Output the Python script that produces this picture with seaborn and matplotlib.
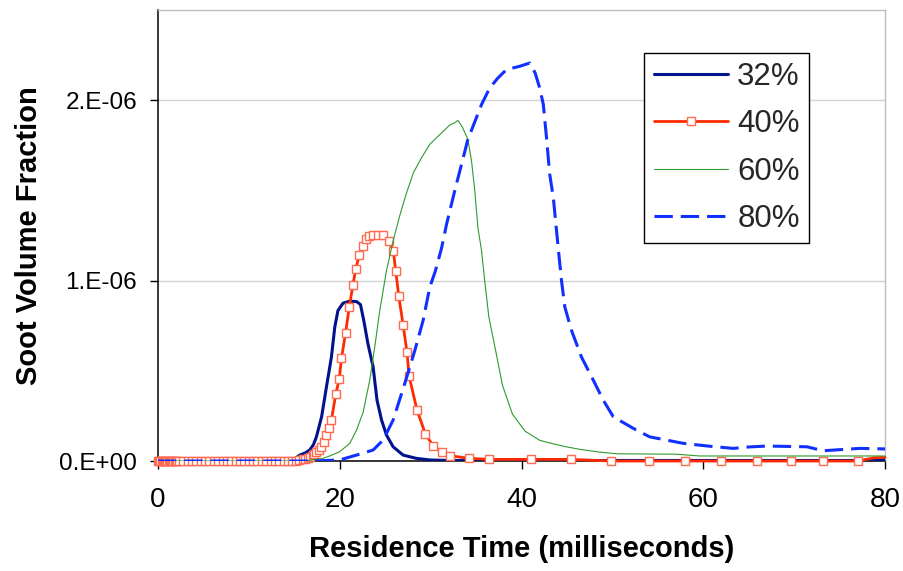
import numpy as np
import pandas as pd
import matplotlib
matplotlib.use("Agg")
import matplotlib.pyplot as plt
from matplotlib.ticker import FuncFormatter
import seaborn as sns

# Soot volume fraction (in units of 1e-6) versus residence time (ms)
# for four oxygen-enrichment levels.
SCALE = 1e-6

t_32 = [0.0, 14.0, 15.0, 15.6, 16.2, 16.7, 17.1, 17.43, 18.0, 18.5, 19.08, 19.45,
        19.8, 20.36, 21.1, 21.84, 22.28, 22.64, 23.1, 23.67, 24.1, 24.6, 25.14,
        25.87, 26.97, 28.4, 29.9, 32.0, 40.0, 50.0, 60.0, 70.0, 78.5, 81.0]
fv_32 = [0.0, 0.0, 0.01, 0.033, 0.045, 0.061, 0.09, 0.134, 0.245, 0.40, 0.576, 0.742,
         0.834, 0.875, 0.886, 0.884, 0.867, 0.779, 0.650, 0.521, 0.337, 0.227, 0.144,
         0.079, 0.033, 0.015, 0.006, 0.003, 0.003, 0.003, 0.003, 0.003, 0.003, 0.012]

t_40 = [0.0, 0.13, 0.26, 0.39, 0.52, 0.65, 0.78, 0.91, 1.04, 1.17, 1.3, 1.43, 1.56,
        1.69, 1.82, 1.95, 2.08, 2.3, 2.78, 3.26, 3.74, 4.22, 4.7, 5.18, 5.66, 6.14,
        6.62, 7.1, 7.58, 8.06, 8.54, 9.02, 9.5, 9.98, 10.46, 10.94, 11.42, 11.9,
        12.38, 12.86, 13.34, 13.82, 14.3, 14.78, 15.2, 15.5, 15.9, 16.2, 16.5, 16.75,
        17.0, 17.2, 17.43, 17.7, 17.98, 18.27, 18.5, 18.8, 19.08, 19.56, 19.95,
        20.19, 20.64, 21.05, 21.45, 21.76, 22.15, 22.55, 22.9, 23.25, 23.7, 24.2,
        24.8, 25.4, 25.9, 26.16, 26.5, 26.97, 27.4, 27.63, 28.5, 29.43, 30.27, 31.2,
        32.1, 34.2, 36.4, 41.0, 45.4, 49.8, 54.0, 58.0, 61.9, 65.9, 69.6, 73.2,
        77.0, 78.8, 80.0]
fv_40 = [0.0] * 45 + [
        0.004, 0.009, 0.013, 0.018, 0.025, 0.033, 0.04, 0.048, 0.061, 0.079, 0.107,
        0.144, 0.185, 0.227, 0.37, 0.457, 0.569, 0.711, 0.855, 0.976, 1.065, 1.142,
        1.193, 1.228, 1.248, 1.252, 1.252, 1.252, 1.219, 1.162, 1.051, 0.912, 0.755,
        0.602, 0.470, 0.282, 0.149, 0.085, 0.052, 0.030, 0.015, 0.009, 0.009, 0.009,
        0.0, 0.0, 0.0, 0.0, 0.0, 0.0, 0.0, 0.0, 0.018, 0.02]

t_60 = [0.0, 16.0, 17.4, 18.17, 19.0, 20.0, 21.1, 21.84, 22.57, 23.3, 23.85, 24.4,
        25.14, 25.87, 26.6, 27.3, 28.1, 29.0, 29.9, 31.2, 32.1, 32.66, 33.0, 33.5,
        34.1, 34.5, 34.86, 35.2, 35.6, 35.95, 36.4, 37.2, 37.9, 39.0, 40.4, 42.0,
        43.1, 44.8, 46.4, 48.5, 50.5, 57.0, 59.6, 70.0, 81.0]
fv_60 = [0.0, 0.0, 0.009, 0.015, 0.03, 0.052, 0.098, 0.171, 0.27, 0.448, 0.632, 0.834,
         1.055, 1.221, 1.36, 1.479, 1.598, 1.681, 1.755, 1.819, 1.862, 1.875, 1.888,
         1.85, 1.783, 1.663, 1.497, 1.294, 1.166, 1.0, 0.8, 0.6, 0.42, 0.26, 0.165,
         0.115, 0.1, 0.08, 0.065, 0.05, 0.04, 0.038, 0.028, 0.028, 0.028]

t_80 = [0.0, 17.0, 20.0, 21.84, 23.67, 24.77, 25.87, 27.15, 28.26, 29.17, 29.9, 30.5,
        31.2, 31.74, 32.66, 33.4, 34.1, 34.67, 35.6, 36.5, 37.4, 38.35, 39.8, 40.9,
        41.5, 42.0, 42.4, 42.75, 43.1, 43.5, 44.0, 44.4, 44.77, 45.5, 46.6, 47.9,
        49.0, 50.1, 52.3, 54.1, 57.8, 60.5, 63.3, 65.0, 67.0, 71.4, 73.2, 77.2, 81.0]
fv_80 = [0.0, 0.0, 0.006, 0.033, 0.061, 0.116, 0.227, 0.429, 0.613, 0.779, 0.963, 1.05,
         1.18, 1.31, 1.50, 1.645, 1.783, 1.856, 1.976, 2.068, 2.123, 2.170, 2.188,
         2.206, 2.151, 2.068, 1.976, 1.792, 1.590, 1.460, 1.20, 1.0, 0.853, 0.724,
         0.576, 0.448, 0.337, 0.245, 0.181, 0.134, 0.098, 0.083, 0.07, 0.078, 0.083,
         0.079, 0.057, 0.07, 0.066]

labels = ["32%", "40%", "60%", "80%"]
y_ticks = [0.0, 1.0, 2.0]
x_ticks = [0, 20, 40, 60, 80]

sns.set_theme(style="white")
plt.rcParams["font.family"] = ["Liberation Sans", "DejaVu Sans"]

fig = plt.figure(figsize=(9.04, 5.71), dpi=100)
ax = fig.add_axes([0.1748, 0.1926, 0.8042, 0.7899])


def frame(t, fv, name):
    return pd.DataFrame({"time": t, "fv": np.asarray(fv) * SCALE, "series": name})


sns.lineplot(data=frame(t_32, fv_32, labels[0]), x="time", y="fv", ax=ax,
             color="#00128c", lw=2.2, label=labels[0], zorder=3)
sns.lineplot(data=frame(t_40, fv_40, labels[1]), x="time", y="fv", ax=ax,
             color="#ff2a00", lw=2.0, marker="s", markersize=5.5,
             markerfacecolor="white", markeredgecolor="#ff6a50",
             markeredgewidth=1.0, markevery=slice(0, len(t_40) - 2),
             clip_on=False, label=labels[1], zorder=4)
sns.lineplot(data=frame(t_60, fv_60, labels[2]), x="time", y="fv", ax=ax,
             color="#2e9a2e", lw=0.8, label=labels[2], zorder=5)
sns.lineplot(data=frame(t_80, fv_80, labels[3]), x="time", y="fv", ax=ax,
             color="#1030ff", lw=2.2, linestyle=(0, (6, 2.6)),
             label=labels[3], zorder=6)

ax.set_xlim(0, 80)
ax.set_ylim(0, 2.5 * SCALE)
ax.set_xticks(x_ticks)
ax.set_yticks([v * SCALE for v in y_ticks])
ax.yaxis.set_major_formatter(FuncFormatter(lambda v, _: "{:#.0E}".format(v)))

ax.yaxis.grid(True, color="#d4d4d4", lw=1.0)
ax.xaxis.grid(False)
ax.set_axisbelow(True)

for side in ("left", "bottom"):
    ax.spines[side].set_color("#000000")
    ax.spines[side].set_linewidth(1.1)
for side in ("top", "right"):
    ax.spines[side].set_color("#bdbdbd")
    ax.spines[side].set_linewidth(1.0)

ax.tick_params(axis="x", bottom=True, direction="out", length=6, width=1,
               color="black", labelsize=20, pad=13, labelcolor="black")
ax.tick_params(axis="y", left=True, direction="out", length=6, width=1,
               color="black", labelsize=17.5, pad=9, labelcolor="black")

ax.set_xlabel("Residence Time (milliseconds)", fontsize=21, fontweight="bold",
              color="black")
ax.set_ylabel("Soot Volume Fraction", fontsize=21, fontweight="bold",
              color="black")
ax.xaxis.set_label_coords(0.5, -0.165)
ax.yaxis.set_label_coords(-0.158, 0.5)

leg = ax.legend(loc="upper left", bbox_to_anchor=(0.669, 0.905),
                borderaxespad=0, frameon=True, fancybox=False, framealpha=1,
                edgecolor="black", fontsize=22.5, handlelength=2.37,
                handletextpad=0.3, borderpad=0.3, labelspacing=0.55)
leg.get_frame().set_linewidth(1.0)

fig.savefig("out.png", dpi=100)
